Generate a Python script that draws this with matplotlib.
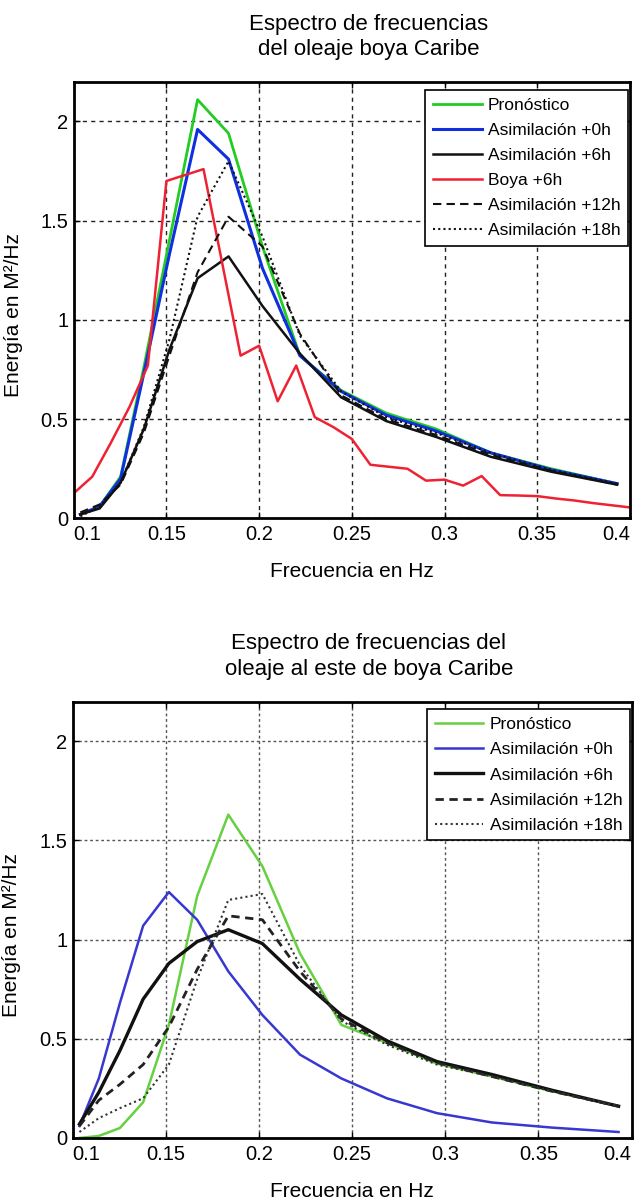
import matplotlib
matplotlib.use("Agg")
import matplotlib.pyplot as plt

plt.rcParams['font.family'] = ['Liberation Sans', 'DejaVu Sans']

# Model frequencies (Hz)
freq = [0.1036, 0.114, 0.1253, 0.1378, 0.1516, 0.1668, 0.1835, 0.2018,
        0.222, 0.2442, 0.2686, 0.2955, 0.325, 0.3575, 0.393]

# ---- Top chart: boya Caribe ----
top_pronostico = [0.02, 0.06, 0.21, 0.76, 1.40, 2.11, 1.94, 1.37, 0.82, 0.645, 0.53, 0.45, 0.33, 0.25, 0.175]
top_asim0 = [0.02, 0.06, 0.20, 0.73, 1.33, 1.96, 1.81, 1.26, 0.82, 0.64, 0.52, 0.44, 0.33, 0.245, 0.175]
top_asim6 = [0.02, 0.05, 0.18, 0.45, 0.85, 1.21, 1.32, 1.07, 0.83, 0.61, 0.49, 0.41, 0.31, 0.235, 0.17]
top_asim12 = [0.03, 0.07, 0.17, 0.43, 0.82, 1.24, 1.52, 1.37, 0.93, 0.62, 0.50, 0.42, 0.32, 0.24, 0.17]
top_asim18 = [0.01, 0.06, 0.18, 0.46, 0.90, 1.52, 1.80, 1.42, 0.92, 0.64, 0.51, 0.43, 0.33, 0.245, 0.175]

buoy_freq = [0.10, 0.11, 0.12, 0.13, 0.14, 0.15, 0.16, 0.17, 0.18, 0.19, 0.20,
             0.21, 0.22, 0.23, 0.24, 0.25, 0.26, 0.27, 0.28, 0.29, 0.30,
             0.31, 0.32, 0.33, 0.34, 0.35, 0.36, 0.37, 0.38, 0.39, 0.40]
buoy_6h = [0.126, 0.21, 0.38, 0.56, 0.77, 1.70, 1.73, 1.76, 1.29, 0.82, 0.87,
           0.59, 0.77, 0.51, 0.46, 0.40, 0.27, 0.26, 0.25, 0.19, 0.195,
           0.165, 0.213, 0.117, 0.115, 0.112, 0.10, 0.09, 0.077, 0.066, 0.055]

# ---- Bottom chart: al este de boya Caribe ----
bot_pronostico = [0.0, 0.01, 0.05, 0.18, 0.57, 1.22, 1.63, 1.37, 0.93, 0.57, 0.48, 0.375, 0.31, 0.235, 0.16]
bot_asim0 = [0.06, 0.30, 0.68, 1.07, 1.24, 1.10, 0.84, 0.62, 0.42, 0.30, 0.20, 0.125, 0.078, 0.052, 0.03]
bot_asim6 = [0.07, 0.23, 0.44, 0.70, 0.88, 0.99, 1.05, 0.98, 0.80, 0.62, 0.49, 0.385, 0.32, 0.24, 0.16]
bot_asim12 = [0.06, 0.19, 0.27, 0.37, 0.56, 0.85, 1.12, 1.10, 0.84, 0.60, 0.48, 0.38, 0.31, 0.235, 0.16]
bot_asim18 = [0.03, 0.10, 0.15, 0.20, 0.37, 0.80, 1.20, 1.23, 0.87, 0.59, 0.47, 0.37, 0.31, 0.235, 0.16]

xticks = [0.1, 0.15, 0.2, 0.25, 0.3, 0.35, 0.4]
xticklabels = ['0.1', '0.15', '0.2', '0.25', '0.3', '0.35', '0.4']
yticks = [0, 0.5, 1, 1.5, 2]
yticklabels = ['0', '0.5', '1', '1.5', '2']

fig = plt.figure(figsize=(6.38, 12.01), dpi=100)
ax1 = fig.add_axes([0.1155, 0.5684, 0.872, 0.3635])
ax2 = fig.add_axes([0.114, 0.0525, 0.876, 0.3633])


def style(ax, title, gridstyle, gridcolor):
    ax.set_xlim(0.1, 0.4)
    ax.set_ylim(0, 2.2)
    ax.set_xticks(xticks)
    ax.set_xticklabels(xticklabels)
    ax.set_yticks(yticks)
    ax.set_yticklabels(yticklabels)
    ax.tick_params(direction='in', top=True, right=True, labelsize=14.5,
                   length=4, width=1, pad=4)
    ax.tick_params(axis='x', pad=5)
    xl = ax.get_xticklabels()
    xl[0].set_ha('left')
    xl[-1].set_ha('right')
    for s in ax.spines.values():
        s.set_linewidth(2)
        s.set_color('black')
    ax.grid(True, linestyle=gridstyle, color=gridcolor, linewidth=1)
    ax.set_axisbelow(True)
    ax.set_xlabel('Frecuencia en Hz', fontsize=15, labelpad=13)
    ax.set_ylabel('Energía en M²/Hz', fontsize=15)
    ax.yaxis.set_label_coords(-0.092, 0.465)
    ax.set_title(title, fontsize=16, pad=19, linespacing=1.3, x=0.53)


def add_legend(ax):
    leg = ax.legend(loc='upper right', bbox_to_anchor=(0.997, 0.982),
                    fontsize=12.5, handlelength=2.8, handletextpad=0.35,
                    labelspacing=0.57, borderaxespad=0.0, fancybox=False,
                    edgecolor='black', framealpha=1, borderpad=0.45)
    leg.get_frame().set_linewidth(1.2)


# Top
ax1.plot(freq, top_pronostico, color='#22cc22', lw=2, label='Pronóstico')
ax1.plot(freq, top_asim0, color='#1030e0', lw=2.2, label='Asimilación +0h')
ax1.plot(freq, top_asim6, color='#111111', lw=1.8, label='Asimilación +6h')
ax1.plot(buoy_freq, buoy_6h, color='#ee2233', lw=1.8, label='Boya +6h')
ax1.plot(freq, top_asim12, color='#111111', lw=1.5, ls=(0, (4, 2.5)), label='Asimilación +12h')
ax1.plot(freq, top_asim18, color='#111111', lw=1.5, ls=(0, (1, 1.5)), label='Asimilación +18h')
style(ax1, 'Espectro de frecuencias\ndel oleaje boya Caribe', (0, (3, 3)), '#222222')
add_legend(ax1)

# Bottom
ax2.plot(freq, bot_pronostico, color='#66d040', lw=1.8, label='Pronóstico')
ax2.plot(freq, bot_asim0, color='#3838d0', lw=1.8, label='Asimilación +0h')
ax2.plot(freq, bot_asim6, color='#111111', lw=2.4, label='Asimilación +6h')
ax2.plot(freq, bot_asim12, color='#222222', lw=2, ls=(0, (3, 2)), label='Asimilación +12h')
ax2.plot(freq, bot_asim18, color='#333333', lw=1.5, ls=(0, (1, 1.5)), label='Asimilación +18h')
style(ax2, 'Espectro de frecuencias del\noleaje al este de boya Caribe', (0, (2, 2)), '#555555')
add_legend(ax2)

fig.savefig('out.png', dpi=100)
